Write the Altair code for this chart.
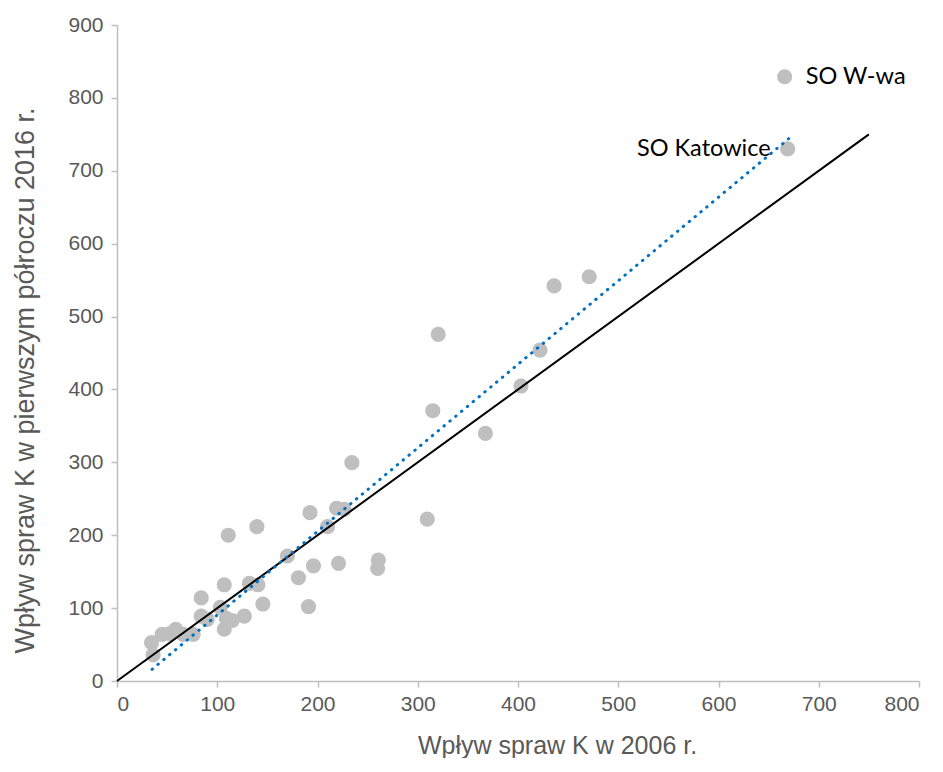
import altair as alt
import pandas as pd

# Scatter data: inflow of K cases in 2006 vs first half of 2016
x_2006 = [34.5, 36, 45, 52.7, 58.6, 66, 76, 84, 84, 90, 103, 107, 107, 109, 115,
          111, 127, 132, 140.5, 139.5, 145.5, 170, 181, 191, 192.5, 196, 210, 219,
          226.6, 221, 260.7, 260, 320.4, 422, 403, 315, 367.5, 234.3, 309.5, 436,
          471, 669, 666]
y_2016 = [52.6, 35.7, 64, 65, 71, 64, 64, 114, 89, 84.6, 101, 132, 71, 86, 83,
          200, 89, 134, 132, 211.7, 105.6, 171.5, 141.7, 102, 231, 158, 211.7, 237,
          235.5, 161.4, 166, 154.6, 475.6, 454, 404.7, 370.8, 339.8, 299.5, 222, 542,
          554.6, 730, 829]

# Reference line y = x
diag_x = [0, 750]
diag_y = [0, 750]

# Linear trend line endpoints
trend_x = [35, 670]
trend_y = [16, 744]

# Labelled points
label_names = ["SO W-wa", "SO Katowice"]
label_x = [666, 669]
label_y = [829, 730]

x_ticks = [0, 100, 200, 300, 400, 500, 600, 700, 800]
y_ticks = [0, 100, 200, 300, 400, 500, 600, 700, 800, 900]

pts = pd.DataFrame({"x": x_2006, "y": y_2016})
diag = pd.DataFrame({"x": diag_x, "y": diag_y})
trend = pd.DataFrame({"x": trend_x, "y": trend_y})
lab = pd.DataFrame({"name": label_names, "x": label_x, "y": label_y})

xs = alt.Scale(domain=[0, 800], nice=False)
ys = alt.Scale(domain=[0, 900], nice=False)

xenc = alt.X("x:Q", scale=xs, axis=alt.Axis(values=x_ticks, title="Wpływ spraw K w 2006 r.",
                                            titleX=440, titleY=64, titleBaseline="middle",
                                            titleFontSize=25, labelPadding=6))
yenc = alt.Y("y:Q", scale=ys, axis=alt.Axis(values=y_ticks, title="Wpływ spraw K w pierwszym półroczu 2016 r.",
                                            titleX=-92, titleY=355, titleBaseline="middle",
                                            titleAlign="center", titleFontSize=27, labelPadding=8))

points = alt.Chart(pts).mark_circle(size=230, color="#BFBFBF", opacity=1).encode(x=xenc, y=yenc)
diag_line = alt.Chart(diag).mark_line(color="black", strokeWidth=2).encode(x="x:Q", y="y:Q")
trend_line = alt.Chart(trend).mark_line(color="#0070C0", strokeWidth=3, strokeDash=[0.5, 7.1],
                                        strokeCap="round").encode(x="x:Q", y="y:Q")

lab_w = alt.Chart(lab[lab.name == "SO W-wa"]).mark_text(
    align="left", baseline="middle", dx=21, font="Lato", fontSize=23.5, color="black"
).encode(x="x:Q", y="y:Q", text="name:N")
lab_k = alt.Chart(lab[lab.name == "SO Katowice"]).mark_text(
    align="right", baseline="middle", dx=-17, font="Lato", fontSize=23.5, color="black"
).encode(x="x:Q", y="y:Q", text="name:N")

chart = alt.layer(points, diag_line, trend_line, lab_w, lab_k).properties(
    width=802, height=656,
    autosize=alt.AutoSizeParams(type="none"),
    padding={"left": 109, "top": 17, "right": 16, "bottom": 77},
).configure_view(stroke=None).configure_axis(
    grid=False,
    domainColor="#BFBFBF", domainWidth=1.5,
    tickColor="#BFBFBF", tickWidth=1.5, tickSize=6,
    labelFont="Liberation Sans", labelFontSize=21, labelColor="#595959",
    titleFont="Liberation Sans", titleColor="#595959", titleFontWeight="normal",
)

chart.save("out.html", embed_options={"renderer": "svg", "actions": False})
